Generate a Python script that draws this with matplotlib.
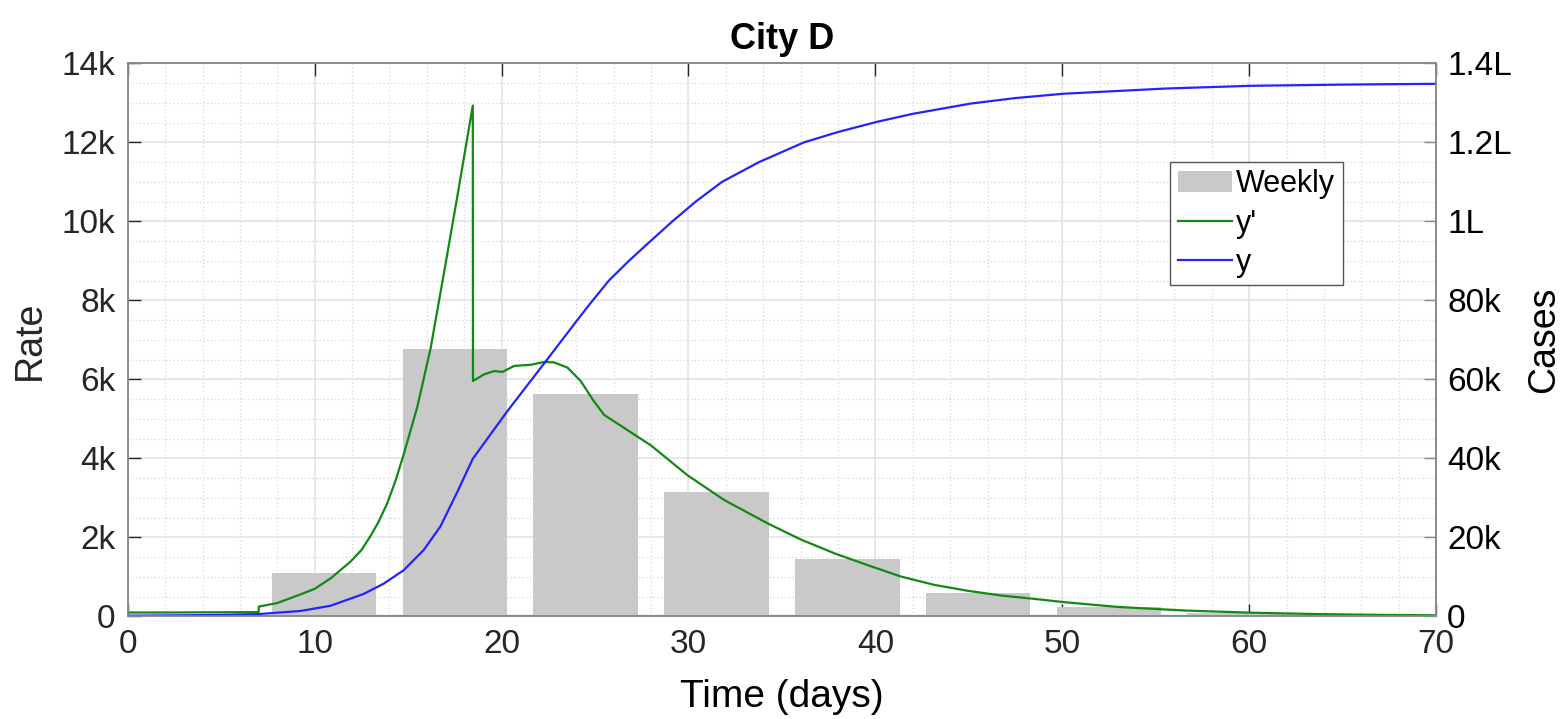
import matplotlib
matplotlib.use("Agg")
import matplotlib.pyplot as plt
from matplotlib.ticker import MultipleLocator, FixedLocator
from matplotlib.patches import Patch
from matplotlib.lines import Line2D

plt.rcParams['font.family'] = ['Liberation Sans', 'DejaVu Sans']

# weekly bars (centre day, rate)
week_days = [3.5, 10.5, 17.5, 24.5, 31.5, 38.5, 45.5, 52.5, 59.5, 66.5]
week_rate = [40, 1090, 6780, 5630, 3140, 1450, 600, 240, 100, 30]

# y' (rate)
rate_days = [0, 2, 4, 6, 7.0, 7.01, 8, 9.25, 10, 10.84, 11.9, 12.5, 12.98, 13.4,
             13.87, 14.3, 14.75, 15.49, 16.2, 16.92, 17.64, 18.46, 18.47, 19.07,
             19.6, 20.05, 20.67, 21.56, 22.27, 22.8, 23.52, 24.23, 24.95, 25.49,
             27.99, 29.93, 31.9, 34.22, 36.0, 37.8, 39.58, 41.37, 43.15, 44.94,
             46.73, 48.4, 50.15, 53, 56.57, 60.14, 63.7, 67, 70]
rate_vals = [100, 100, 105, 108, 110, 250, 340, 560, 700, 960, 1380, 1680, 2030,
             2380, 2850, 3400, 4080, 5300, 6780, 8700, 10650, 12930, 5960, 6130,
             6210, 6190, 6340, 6370, 6440, 6430, 6300, 5960, 5440, 5100, 4330,
             3580, 2950, 2360, 1950, 1600, 1300, 1010, 800, 650, 530, 450, 360,
             240, 150, 95, 60, 40, 30]

# y (cumulative cases)
cases_days = [0, 3, 5, 7, 9.25, 10.84, 12.62, 13.69, 14.76, 15.83, 16.73, 17.62,
              18.46, 20.3, 22.45, 24.05, 24.76, 25.74, 26.81, 27.97, 29.14, 30.39,
              31.8, 33.78, 36.19, 38, 40.1, 42, 45.1, 47.5, 50.1, 55.5, 60.1, 65,
              70]
cases_vals = [200, 300, 400, 600, 1400, 2700, 5700, 8300, 11700, 16800, 22800,
              31400, 39900, 51900, 65100, 75000, 79300, 85000, 90000, 95000,
              100000, 105000, 110000, 115000, 120000, 122600, 125200, 127200,
              129800, 131200, 132300, 133600, 134300, 134600, 134800]

left_ticks = [0, 2000, 4000, 6000, 8000, 10000, 12000, 14000]
left_labels = ['0', '2k', '4k', '6k', '8k', '10k', '12k', '14k']
right_ticks = [0, 20000, 40000, 60000, 80000, 100000, 120000, 140000]
right_labels = ['0', '20k', '40k', '60k', '80k', '1L', '1.2L', '1.4L']

bar_col = '#c9c9c9'
green = '#118a11'
blue = '#2323ff'
spine_col = '#8a8a8a'

fig = plt.figure(figsize=(15.64, 7.19), dpi=100)
ax = fig.add_axes([0.0817, 0.1426, 0.8365, 0.7694])
ax2 = ax.twinx()

ax.axhline(0, color='#7a7a7a', lw=1.6, zorder=1)
ax.bar(week_days, week_rate, width=5.6, color=bar_col, zorder=2)
ax.plot(rate_days, rate_vals, color=green, lw=1.6, zorder=3)
ax2.plot(cases_days, cases_vals, color=blue, lw=1.6)

ax.set_xlim(0, 70)
ax.set_ylim(0, 14000)
ax2.set_ylim(0, 140000)

ax.xaxis.set_major_locator(MultipleLocator(10))
ax.xaxis.set_minor_locator(MultipleLocator(2))
ax.yaxis.set_major_locator(FixedLocator(left_ticks))
ax.set_yticklabels(left_labels)
ax.yaxis.set_minor_locator(MultipleLocator(500))
ax2.yaxis.set_major_locator(FixedLocator(right_ticks))
ax2.set_yticklabels(right_labels)

ax.grid(True, which='major', color='#e4e4e4', lw=1.2, zorder=0)
ax.grid(True, which='minor', color='#d6d6d6', lw=0.9, ls=(0, (1, 2)), zorder=0)
ax.set_axisbelow(True)

ax.tick_params(axis='both', which='major', direction='in', length=9, width=1,
               labelsize=24, labelcolor='#262626', color='#262626', top=True)
ax.tick_params(axis='both', which='minor', length=0)
ax.tick_params(axis='x', pad=9)
ax.tick_params(axis='y', pad=9)
ax2.tick_params(axis='y', direction='in', length=9, width=1, labelsize=24,
                labelcolor='black', color=spine_col, pad=8)

for a in (ax, ax2):
    for s in a.spines.values():
        s.set_color(spine_col)
        s.set_linewidth(1.2)

ax.set_xlabel('Time (days)', fontsize=28, labelpad=14)
ax.set_ylabel('Rate', fontsize=27, labelpad=10, color='#262626')
ax2.set_ylabel('Cases', fontsize=27, labelpad=10)
ax.set_title('City D', fontsize=26, fontweight='bold', pad=10)

handles = [Patch(facecolor=bar_col, edgecolor='none'),
           Line2D([], [], color=green, lw=1.6),
           Line2D([], [], color=blue, lw=1.6)]
leg = ax2.legend(handles, ['Weekly', "y'", 'y'], loc='upper left',
                 bbox_to_anchor=(0.797, 0.822), fontsize=22, frameon=True,
                 fancybox=False, edgecolor='#555555', framealpha=1,
                 handlelength=1.75, handletextpad=0.15, borderpad=0.25,
                 labelspacing=0.3, borderaxespad=0)
leg.get_frame().set_linewidth(1.0)

fig.savefig('out.png', dpi=100)
